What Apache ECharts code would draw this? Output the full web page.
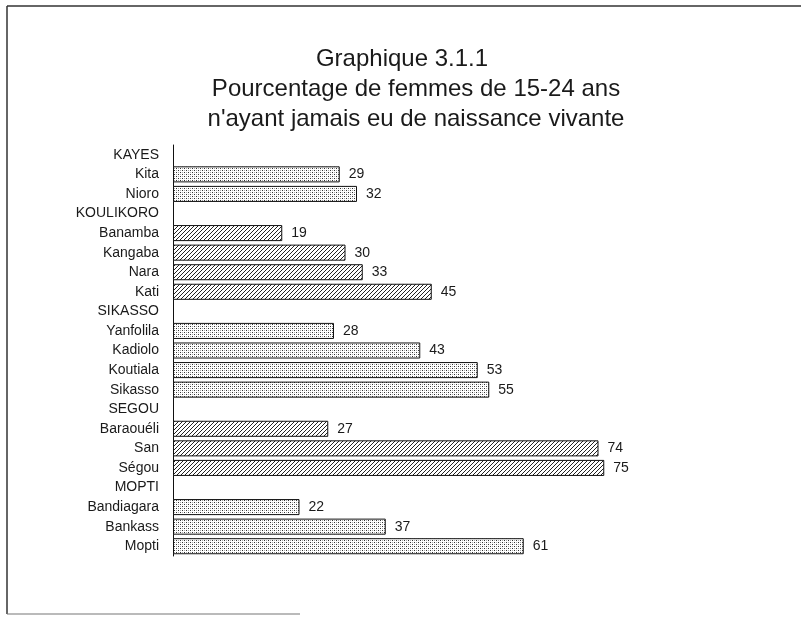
<!DOCTYPE html>
<html>
<head>
<meta charset="utf-8">
<script src="https://cdn.jsdelivr.net/npm/echarts@6/dist/echarts.min.js"></script>
<style>
  html, body { margin: 0; padding: 0; background: #fff; }
  #chart { width: 801px; height: 617px; }
</style>
</head>
<body>
<div id="chart"></div>
<script>
// Rows from top to bottom; region headers have no value
const categories = [
  "KAYES", "Kita", "Nioro",
  "KOULIKORO", "Banamba", "Kangaba", "Nara", "Kati",
  "SIKASSO", "Yanfolila", "Kadiolo", "Koutiala", "Sikasso",
  "SEGOU", "Baraouéli", "San", "Ségou",
  "MOPTI", "Bandiagara", "Bankass", "Mopti"
];
const values = [
  null, 29, 32,
  null, 19, 30, 33, 45,
  null, 28, 43, 53, 55,
  null, 27, 74, 75,
  null, 22, 37, 61
];
// regions drawn with diagonal hatching, the others are stippled
const hatchedRegions = ["KOULIKORO", "SEGOU"];

const titleLines = [
  "Graphique 3.1.1",
  "Pourcentage de femmes de 15-24 ans",
  "n'ayant jamais eu de naissance vivante"
];

function dotPattern() {
  const c = document.createElement("canvas");
  c.width = 4; c.height = 4;
  const ctx = c.getContext("2d");
  ctx.fillStyle = "#fff";
  ctx.fillRect(0, 0, 4, 4);
  ctx.fillStyle = "#333";
  ctx.fillRect(0, 0, 1, 1);
  ctx.fillRect(2, 2, 1, 1);
  ctx.fillStyle = "#aaa";
  ctx.fillRect(2, 0, 1, 1);
  ctx.fillRect(0, 2, 1, 1);
  return c;
}

function hatchPattern() {
  const s = 4;
  const c = document.createElement("canvas");
  c.width = s; c.height = s;
  const ctx = c.getContext("2d");
  ctx.fillStyle = "#fff";
  ctx.fillRect(0, 0, s, s);
  ctx.strokeStyle = "#222";
  ctx.lineWidth = 1;
  ctx.beginPath();
  ctx.moveTo(-1, s + 1); ctx.lineTo(s + 1, -1);
  ctx.moveTo(-1, 1); ctx.lineTo(1, -1);
  ctx.moveTo(s - 1, s + 1); ctx.lineTo(s + 1, s - 1);
  ctx.stroke();
  return c;
}

const dots = { image: dotPattern(), repeat: "repeat" };
const hatch = { image: hatchPattern(), repeat: "repeat" };

let region = null;
const barData = categories.map((name, i) => {
  if (values[i] == null) {
    region = name;
    return null;
  }
  return {
    value: values[i],
    itemStyle: { color: hatchedRegions.includes(region) ? hatch : dots }
  };
});

const font = "'Liberation Sans', Arial, sans-serif";
const chart = echarts.init(document.getElementById("chart"));

// first title line sits a little left of the two others in the scan
const titleCenters = [397, 411, 411];

chart.setOption({
  animation: false,
  backgroundColor: "#fff",
  title: titleLines.map((t, i) => ({
    text: t,
    left: titleCenters[i],
    top: 42 + i * 30,
    textAlign: "center",
    textStyle: {
      fontFamily: font,
      fontWeight: "normal",
      fontSize: 24,
      color: "#1a1a1a"
    }
  })),
  graphic: [
    { type: "line", shape: { x1: 7, y1: 6, x2: 801, y2: 6 }, style: { stroke: "#333", lineWidth: 1.5 } },
    { type: "line", shape: { x1: 7, y1: 6, x2: 7, y2: 614 }, style: { stroke: "#333", lineWidth: 1.5 } },
    { type: "line", shape: { x1: 7, y1: 614, x2: 300, y2: 614 }, style: { stroke: "#777", lineWidth: 1.2 } }
  ],
  grid: { left: 173, top: 145, width: 575, height: 411 },
  xAxis: {
    type: "value",
    min: 0,
    max: 100,
    show: false
  },
  yAxis: {
    type: "category",
    inverse: true,
    data: categories,
    axisLine: { lineStyle: { color: "#111", width: 1 } },
    axisTick: { show: false },
    axisLabel: {
      margin: 14,
      fontFamily: font,
      fontSize: 14,
      color: "#1a1a1a"
    }
  },
  series: [{
    type: "bar",
    data: barData,
    barCategoryGap: "18%",
    itemStyle: { borderColor: "#111", borderWidth: 1 },
    label: {
      show: true,
      position: "right",
      distance: 9,
      fontFamily: font,
      fontSize: 14,
      color: "#1a1a1a"
    }
  }]
});
</script>
</body>
</html>
